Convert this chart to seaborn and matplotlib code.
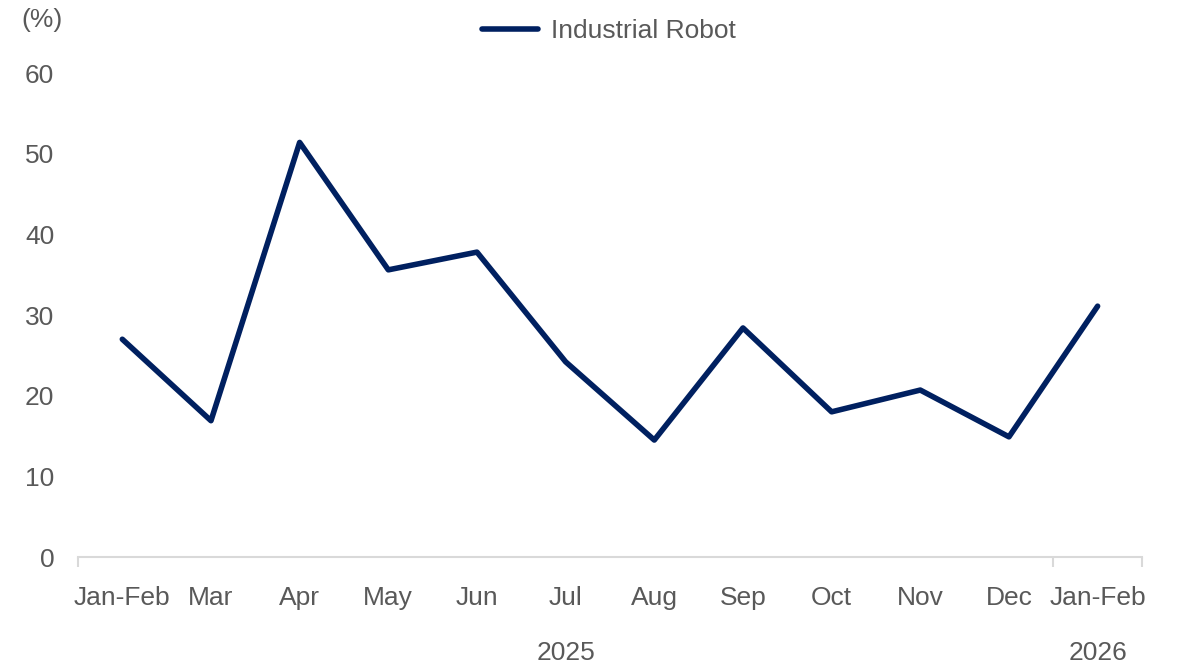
import matplotlib
matplotlib.use("Agg")
import matplotlib.pyplot as plt
import matplotlib.transforms as mtransforms
import seaborn as sns
import pandas as pd

categories = ["Jan-Feb", "Mar", "Apr", "May", "Jun", "Jul", "Aug", "Sep", "Oct", "Nov", "Dec", "Jan-Feb"]
values = [27.0, 16.9, 51.4, 35.6, 37.8, 24.2, 14.5, 28.4, 18.0, 20.7, 14.9, 31.1]
years = ["2025", "2026"]
series_name = "Industrial Robot"
y_ticks = [0, 10, 20, 30, 40, 50, 60]

sns.set_theme(style="white")
plt.rcParams["font.family"] = ["Liberation Sans", "DejaVu Sans"]

text_color = "#595959"
line_color = "#002060"
axis_color = "#d9d9d9"
fs = 19

df = pd.DataFrame({"pos": range(len(categories)), "value": values})

fig = plt.figure(figsize=(11.78, 6.64), dpi=100)
ax = fig.add_axes([0.0662, 0.1611, 0.9032, 0.7289])

sns.lineplot(data=df, x="pos", y="value", ax=ax, color=line_color, linewidth=4.0,
             label=series_name, solid_capstyle="round", solid_joinstyle="round")

ax.set_xlim(-0.5, len(categories) - 0.5)
ax.set_ylim(0, 60)
ax.set_yticks(y_ticks)
ax.set_yticklabels([str(t) for t in y_ticks])
ax.set_xticks(range(len(categories)))
ax.set_xticklabels(categories)
ax.set_xticks([-0.5, len(categories) - 1.5, len(categories) - 0.5], minor=True)
ax.set_xlabel("")
ax.set_ylabel("")

for s in ["top", "right", "left"]:
    ax.spines[s].set_visible(False)
ax.spines["bottom"].set_color(axis_color)
ax.spines["bottom"].set_linewidth(1.5)

ax.tick_params(axis="x", which="major", length=0, pad=21, labelsize=fs, labelcolor=text_color)
ax.tick_params(axis="x", which="minor", length=7, width=1.5, color=axis_color, bottom=True)
ax.tick_params(axis="y", length=0, pad=17, labelsize=fs, labelcolor=text_color)

trans = mtransforms.blended_transform_factory(ax.transData, fig.transFigure)
ax.text((-0.5 + len(categories) - 1.5) / 2, 1 - 653 / 664, years[0], transform=trans,
        ha="center", va="center", fontsize=fs, color=text_color)
ax.text(len(categories) - 1, 1 - 653 / 664, years[1], transform=trans,
        ha="center", va="center", fontsize=fs, color=text_color)

fig.text(42 / 1178, 1 - 20 / 664, "(%)", ha="center", va="center", fontsize=fs, color=text_color)

leg = ax.legend(loc="center", bbox_to_anchor=(609 / 1178, 1 - 31 / 664), bbox_transform=fig.transFigure,
                frameon=False, fontsize=fs, handlelength=2.1, handletextpad=0.5)
for t in leg.get_texts():
    t.set_color(text_color)

fig.savefig("out.png", dpi=100)
